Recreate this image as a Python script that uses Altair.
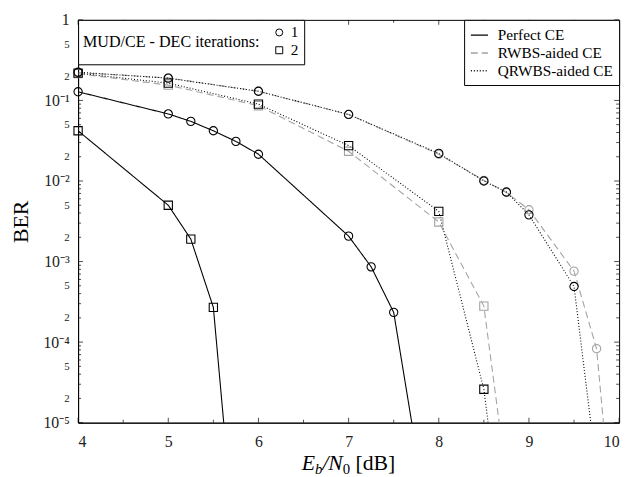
import altair as alt
import pandas as pd

FONT = "Liberation Serif"

methods = ["Perfect CE", "RWBS-aided CE", "QRWBS-aided CE"]
method_colors = ["#000000", "#a3a3a3", "#000000"]
iterations = ["1", "2"]

# Perfect CE
ebn0_perfect_1 = [4, 5, 5.25, 5.5, 5.75, 6, 7, 7.25, 7.5]
ber_perfect_1 = [0.128, 0.068, 0.055, 0.042, 0.031, 0.0215, 2.07e-3, 8.6e-4, 2.34e-4]
ebn0_perfect_2 = [4, 5, 5.25, 5.5]
ber_perfect_2 = [0.042, 5.0e-3, 1.9e-3, 2.7e-4]
# RWBS-aided CE
ebn0_rwbs_1 = [4, 5, 6, 7, 8, 8.5, 8.75, 9, 9.5, 9.75]
ber_rwbs_1 = [0.222, 0.19, 0.13, 0.067, 0.0215, 0.0102, 0.0072, 4.4e-3, 7.6e-4, 8.3e-5]
ebn0_rwbs_2 = [4, 5, 6, 7, 8, 8.5]
ber_rwbs_2 = [0.215, 0.155, 0.086, 0.0234, 3.1e-3, 2.8e-4]
# QRWBS-aided CE
ebn0_qrwbs_1 = [4, 5, 6, 7, 8, 8.5, 8.75, 9, 9.5]
ber_qrwbs_1 = [0.224, 0.189, 0.13, 0.067, 0.022, 0.0100, 0.0073, 3.8e-3, 4.9e-4]
ebn0_qrwbs_2 = [4, 5, 6, 7, 8, 8.5]
ber_qrwbs_2 = [0.218, 0.164, 0.090, 0.0275, 4.2e-3, 2.6e-5]

# continuation of each curve below the 1e-5 floor (drawn without marker)
tail_perfect_1 = (7.75, 4.6e-6)
tail_perfect_2 = (5.75, 2.1e-7)
tail_rwbs_1 = (10.0, 8e-8)
tail_rwbs_2 = (8.75, 2.1e-6)
tail_qrwbs_1 = (10.0, 1.4e-8)
tail_qrwbs_2 = (8.75, 1.6e-7)

x_major = [4, 5, 6, 7, 8, 9, 10]
x_minor = [4.5, 5.5, 6.5, 7.5, 8.5, 9.5]
y_labels = [1e-5, 2e-5, 5e-5, 1e-4, 2e-4, 5e-4, 1e-3, 2e-3, 5e-3,
            1e-2, 2e-2, 5e-2, 1e-1, 2e-1, 5e-1, 1.0]
y_major = [1e-5, 1e-4, 1e-3, 1e-2, 1e-1, 1.0]
y_minor = [k * 10.0 ** e for e in range(-5, 0) for k in range(2, 10)]

series = [
    ("Perfect CE", "1", ebn0_perfect_1, ber_perfect_1, tail_perfect_1),
    ("Perfect CE", "2", ebn0_perfect_2, ber_perfect_2, tail_perfect_2),
    ("RWBS-aided CE", "1", ebn0_rwbs_1, ber_rwbs_1, tail_rwbs_1),
    ("RWBS-aided CE", "2", ebn0_rwbs_2, ber_rwbs_2, tail_rwbs_2),
    ("QRWBS-aided CE", "1", ebn0_qrwbs_1, ber_qrwbs_1, tail_qrwbs_1),
    ("QRWBS-aided CE", "2", ebn0_qrwbs_2, ber_qrwbs_2, tail_qrwbs_2),
]
rows = []
for m, it, xs, ys, tail in series:
    for xv, yv in zip(xs, ys):
        rows.append(dict(method=m, iteration=it, ebn0=xv, ber=yv, marker=True))
    rows.append(dict(method=m, iteration=it, ebn0=tail[0], ber=tail[1], marker=False))
df = pd.DataFrame(rows)

W, H = 548, 408

xscale = alt.Scale(domain=[4, 10], nice=False, zero=False)
yscale = alt.Scale(type="log", domain=[1e-5, 1], nice=False)

mant = "round(datum.value / pow(10, floor(log(datum.value) / LN10 + 1e-6)))"
dec = "round(-log(datum.value) / LN10)"
label_expr = (f"{mant} == 1 ? ['1','10⁻¹','10⁻²','10⁻³','10⁻⁴','10⁻⁵'][{dec}] : '' + {mant}")

x_axis = alt.Axis(values=x_major, format="d", ticks=False, grid=False, title=None,
                  labelFontSize=16, labelPadding=11, labelColor="#222", labelFont=FONT)
y_axis = alt.Axis(values=y_labels, labelExpr=label_expr, ticks=False, grid=False,
                  labelFontSize={"condition": {"test": f"{mant} == 1", "value": 16}, "value": 11},
                  labelPadding=9, labelColor="#222", labelFont=FONT,
                  title="BER", titleFont=FONT, titleFontSize=22, titleFontWeight="normal",
                  titleColor="black", titleAngle=270, titleX=-51, titleY=H / 2,
                  titleBaseline="alphabetic", titleAlign="center")

method_legend = alt.Legend(orient="top-right", offset=0, title=None, symbolType="stroke",
                           symbolSize=300, symbolStrokeWidth=1.4, labelFont=FONT,
                           labelFontSize=15.5, labelColor="black", labelOffset=9,
                           padding=6, rowPadding=0, strokeColor="black", fillColor="white",
                           cornerRadius=0)

lines = alt.Chart(df).mark_line(clip=True, strokeWidth=1.1).encode(
    x=alt.X("ebn0:Q", scale=xscale, axis=x_axis),
    y=alt.Y("ber:Q", scale=yscale, axis=y_axis),
    color=alt.Color("method:N", scale=alt.Scale(domain=methods, range=method_colors),
                    legend=method_legend),
    strokeDash=alt.StrokeDash("method:N",
                              scale=alt.Scale(domain=methods, range=[[1, 0], [7, 4], [1, 2]]),
                              legend=method_legend),
    detail="iteration:N",
)

points = alt.Chart(df[df["marker"]]).mark_point(filled=False, size=70, strokeWidth=1.1,
                                                opacity=1).encode(
    x=alt.X("ebn0:Q", scale=xscale, axis=x_axis),
    y=alt.Y("ber:Q", scale=yscale, axis=y_axis),
    stroke=alt.Stroke("method:N", scale=alt.Scale(domain=methods, range=method_colors),
                      legend=None),
    shape=alt.Shape("iteration:N",
                    scale=alt.Scale(domain=iterations, range=["circle", "square"]),
                    legend=alt.Legend(orient="top-left", offset=0,
                                      title="MUD/CE - DEC iterations:", titleOrient="left",
                                      titleFont=FONT, titleFontSize=16.3,
                                      titleFontWeight="normal", titleColor="black",
                                      titlePadding=12, symbolSize=50,
                                      symbolStrokeColor="black", symbolStrokeWidth=1,
                                      labelFont=FONT, labelFontSize=15.5, labelColor="black",
                                      padding=5, rowPadding=1, strokeColor="black",
                                      fillColor="white", cornerRadius=0)),
)


def tick_layer(vals, axis, side, length):
    d = pd.DataFrame({"v": vals})
    base = alt.Chart(d).mark_rule(color="black", strokeWidth=0.7)
    if axis == "x":
        y0 = H if side == "bottom" else 0
        y1 = H - length if side == "bottom" else length
        return base.encode(x=alt.X("v:Q", scale=xscale, axis=x_axis),
                           y=alt.value(y0), y2=alt.value(y1))
    x0 = 0 if side == "left" else W
    x1 = length if side == "left" else W - length
    return base.encode(y=alt.Y("v:Q", scale=yscale, axis=y_axis),
                       x=alt.value(x0), x2=alt.value(x1))


ticks = [
    tick_layer(x_major, "x", "bottom", 5), tick_layer(x_minor, "x", "bottom", 3),
    tick_layer(x_major, "x", "top", 5), tick_layer(x_minor, "x", "top", 3),
    tick_layer(y_major, "y", "left", 5), tick_layer(y_minor, "y", "left", 3),
    tick_layer(y_major, "y", "right", 5), tick_layer(y_minor, "y", "right", 3),
]

# x-axis title  E_b / N_0 [dB]  built from pieces
base_y = 456
one = pd.DataFrame({"k": [0]})
pieces = [
    ("E", 226.5, base_y, 22, "italic"),
    ("b", 240.0, base_y + 4, 15, "italic"),
    ("/", 247.5, base_y, 22, "italic"),
    ("N", 253.5, base_y, 22, "italic"),
    ("0", 268.0, base_y + 4, 15, "normal"),
    ("[dB]", 281.0, base_y, 22, "normal"),
]
title_layers = [
    alt.Chart(one).mark_text(align="left", baseline="alphabetic", font=FONT, fontSize=fs,
                             fontStyle=st, color="black").encode(
        x=alt.value(px), y=alt.value(py), text=alt.value(t))
    for t, px, py, fs, st in pieces
]

chart = alt.layer(lines, points, *ticks, *title_layers).properties(
    width=W, height=H,
    padding={"left": 71, "top": 9, "right": 9, "bottom": 52},
    autosize=alt.AutoSizeParams(type="none"),
).configure_view(stroke="black", strokeWidth=1).configure_axis(
    domainColor="black", domainWidth=1
)

chart.save("out.html", embed_options={"renderer": "svg", "actions": False})
